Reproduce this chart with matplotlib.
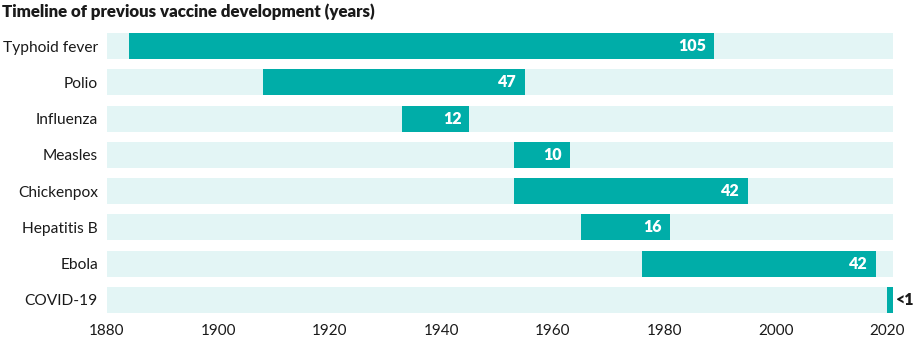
import matplotlib
matplotlib.use("Agg")
import matplotlib.pyplot as plt

diseases = ["Typhoid fever", "Polio", "Influenza", "Measles", "Chickenpox", "Hepatitis B", "Ebola", "COVID-19"]
starts = [1884, 1908, 1933, 1953, 1953, 1965, 1976, 2020]
ends = [1989, 1955, 1945, 1963, 1995, 1981, 2018, 2021]
labels = ["105", "47", "12", "10", "42", "16", "42", "<1"]
ticks = [1880, 1900, 1920, 1940, 1960, 1980, 2000, 2020]
x_min, x_max = 1880, 2021

teal = "#00ADA8"
light = "#E3F5F5"

plt.rcParams['font.family'] = ['Lato', 'DejaVu Sans']

fig = plt.figure(figsize=(9.16, 3.37), dpi=100)
ax = fig.add_axes([107/916, 19/337, 785.7/916, 290/337])

ys = list(range(len(diseases)))
h = 0.72
ax.barh(ys, [x_max - x_min]*len(ys), left=x_min, height=h, color=light, zorder=1)
ax.barh(ys, [e - s for s, e in zip(starts, ends)], left=starts, height=h, color=teal, zorder=2)

for y, s, e, lab in zip(ys, starts, ends, labels):
    if lab == "<1":
        ax.text(e + 0.6, y, lab, ha="left", va="center", fontsize=11.5, fontweight="heavy",
                color="#1a1a1a", clip_on=False)
    else:
        ax.text(e - 1.4, y, lab, ha="right", va="center", fontsize=11.5, fontweight="heavy",
                color="white")

ax.set_xlim(x_min, x_max)
ax.set_ylim(len(ys) - 0.5, -0.5)
ax.set_yticks(ys)
ax.set_yticklabels(diseases, fontsize=11.2, color="#1a1a1a")
ax.set_xticks(ticks)
ax.set_xticklabels([str(t) for t in ticks], fontsize=11, color="#1a1a1a")
ax.tick_params(axis="both", length=0)
ax.tick_params(axis="y", pad=6.5)
ax.tick_params(axis="x", pad=4)
for sp in ax.spines.values():
    sp.set_visible(False)

fig.text(2/916, 1 - 12/337, "Timeline of previous vaccine development (years)",
         ha="left", va="center", fontsize=12.2, fontweight="heavy", color="#1a1a1a")

fig.savefig("out.png", dpi=100)
